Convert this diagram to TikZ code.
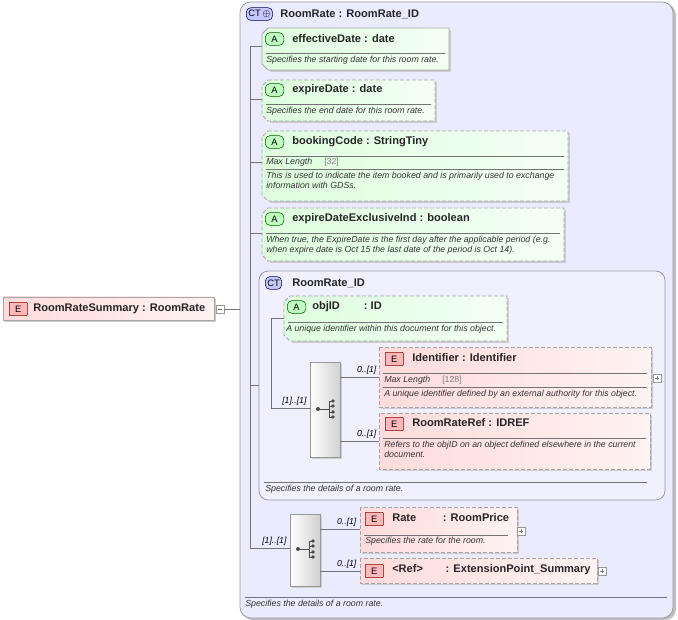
\documentclass[tikz,border=0pt]{standalone}
\usepackage{fontspec}
\setmainfont{Liberation Sans}
\begin{document}
\begin{tikzpicture}[x=0.75pt,y=-0.75pt,
  ttl/.style={anchor=west,inner sep=0pt,font=\fontsize{8.3}{9}\selectfont\bfseries,text=black!85},
  dsc/.style={anchor=north west,inner sep=0pt,font=\fontsize{6.6}{7.6}\selectfont\itshape,text=black!80,align=left},
  mul/.style={anchor=south east,inner sep=1pt,font=\fontsize{6.5}{7}\selectfont\itshape},
  sep/.style={draw=black!55,line width=0.5pt},
  conn/.style={draw=black!55,line width=0.5pt},
  ebox/.style={draw=black!35,line width=0.6pt,left color=red!14,right color=red!5},
  abox/.style={draw=black!35,line width=0.6pt,left color=green!13,right color=green!4},
  dsh/.style={dash pattern=on 3pt off 1.5pt},
  ebadge/.style={draw=red!50!black,fill=red!28,rounded corners=0.5pt,minimum width=13.5pt,minimum height=10pt,inner sep=0pt,font=\fontsize{7}{7}\selectfont,anchor=west},
  abadge/.style={draw=green!35!black,fill=green!25,rounded corners=3.5pt,minimum width=14pt,minimum height=9.5pt,inner sep=0pt,font=\fontsize{7}{7}\selectfont,anchor=west},
  ctbadge/.style={draw=blue!40!black,fill=blue!22,rounded corners=3.5pt,minimum height=9.5pt,inner sep=1.5pt,font=\fontsize{7}{7}\selectfont,anchor=west},
  seqbox/.style={draw=black!40,left color=white,right color=black!18,line width=0.5pt},
  pm/.style={draw=black!40,fill=white,line width=0.4pt},
  shad/.style={fill=black!20}
]
\useasboundingbox (0,0) rectangle (678,620);
% outer CT
\fill[black!25,rounded corners=8pt] (242,4) rectangle (676,620);
\draw[draw=black!40,fill=blue!8,rounded corners=8pt,line width=0.6pt] (240,2) rectangle (673,618);
\node[ctbadge] (ctb) at (246,14) {CT\,$\oplus$};
\node[ttl] (ctt) at (280,14) {RoomRate : RoomRate\_ID};
% outer spine
\draw[conn] (250,46) -- (250,548);
% main element
\fill[shad] (5,299) rectangle (216,322);
\draw[ebox] (3,297) rectangle (214,320);
\node[ebadge] (eb0) at (9,309) {E};
\node[ttl] (rrs) at (33,309) {RoomRateSummary : RoomRate};
\draw[pm] (216,305) rectangle (224,313); \draw[black!60,line width=0.4pt] (218,309)--(222,309);
\coordinate (mainout) at (224,309); \coordinate (ctin) at (240,309);
\draw[conn] (mainout) -- (ctin);
\newcommand{\attrb}[5]{%
 \fill[shad] ({#1+8},{#2+2}) -- ({#3+2},{#2+2}) -- ({#3+2},{#4+2}) -- ({#1+8},{#4+2}) -- cycle;
 \path[abox,#5] ({#1+6},#2) -- (#3,#2) -- (#3,#4) -- ({#1+6},#4) -- (#1,{#4-6}) -- (#1,{#2+6}) -- cycle;}
% effectiveDate
\attrb{262}{28}{449}{70}{}
\node[abadge] (a1) at (265,39) {A};
\node[ttl] (t1) at (292,39) {effectiveDate : date};
\draw[sep] (266,53)--(445,53);
\node[dsc] (d1) at (266,56) {Specifies the starting date for this room rate.};
\draw[conn] (250,46) -- (262,46);
% expireDate
\attrb{262}{80}{435}{121}{dsh}
\node[abadge] (a2) at (265,90) {A};
\node[ttl] (t2) at (292,90) {expireDate : date};
\draw[sep] (266,104)--(431,104);
\node[dsc] (d2) at (266,107) {Specifies the end date for this room rate.};
\draw[conn] (250,99) -- (262,99);
% bookingCode
\attrb{262}{131}{568}{201}{dsh}
\node[abadge] (a3) at (265,142) {A};
\node[ttl] (t3) at (292,142) {bookingCode : StringTiny};
\draw[sep] (266,156)--(564,156);
\node[dsc] (d3a) at (266,158) {Max Length\hspace{9pt}{\upshape\color{black!50}[32]}};
\draw[sep] (266,169)--(564,169);
\node[dsc] (d3) at (266,172) {This is used to indicate the item booked and is primarily used to exchange\\information with GDSs.};
\draw[conn] (250,162) -- (262,162);
% expireDateExclusiveInd
\attrb{262}{208}{564}{261}{dsh}
\node[abadge] (a4) at (265,219) {A};
\node[ttl] (t4) at (292,219) {expireDateExclusiveInd : boolean};
\draw[sep] (266,233)--(560,233);
\node[dsc] (d4) at (266,236) {When true, the ExpireDate is the first day after the applicable period (e.g.\\when expire date is Oct 15  the last date of the period is Oct 14).};
\draw[conn] (250,233) -- (262,233);
% inner CT
\draw[draw=black!40,fill=blue!6,rounded corners=7pt,line width=0.6pt] (259,271) rectangle (665,500);
\node[ctbadge] (ctb2) at (265,283) {CT};
\node[ttl] (ctt2) at (292,283) {RoomRate\_ID};
\draw[conn] (250,385) -- (259,385);
\draw[conn] (271,318) -- (271,408);
% objID
\attrb{284}{296}{507}{341}{dsh}
\node[abadge] (a5) at (287,307) {A};
\node[ttl] (t5) at (312,307) {objID\hspace{18pt}: ID};
\draw[sep] (288,322)--(503,322);
\node[dsc] (d5) at (286,325) {A unique identifier within this document for this object.};
\draw[conn] (271,318) -- (284,318);
% sequence 1
\fill[shad] (312,364) rectangle (342,459);
\draw[seqbox] (310,362) rectangle (340,457);
\draw[black!70,line width=0.7pt] (317,409)--(329,409) (329,401)--(329,417) (329,401)--(333,401) (329,406)--(333,406) (329,412)--(333,412) (329,417)--(333,417);
\fill[black!70] (318,409) circle (2) (333,401) circle (1.8) (333,406) circle (1.8) (333,412) circle (1.8) (333,417) circle (1.8);
\draw[conn] (271,408) -- (310,408); \node[mul] at (308,407) {[1]..[1]};
% Identifier
\fill[shad] (381,349) rectangle (653,409);
\draw[ebox,dsh] (379,347) rectangle (651,407);
\node[ebadge] (e1) at (385,359) {E};
\node[ttl] (t6) at (412,358) {Identifier : Identifier};
\draw[sep] (383,373)--(647,373);
\node[dsc] (d6a) at (384,376) {Max Length\hspace{9pt}{\upshape\color{black!50}[128]}};
\draw[sep] (383,387)--(647,387);
\node[dsc] (d6) at (384,390) {A unique identifier defined by an external authority for this object.};
\draw[pm] (653,374) rectangle (661,382); \draw[black!50,line width=0.4pt] (655,378)--(659,378) (657,376)--(657,380);
\draw[conn] (340,377) -- (379,377); \node[mul] at (378,376) {0..[1]};
% RoomRateRef
\fill[shad] (381,415) rectangle (652,471);
\draw[ebox,dsh] (379,413) rectangle (650,469);
\node[ebadge] (e2) at (385,424) {E};
\node[ttl] (t7) at (412,423) {RoomRateRef : IDREF};
\draw[sep] (383,438)--(646,438);
\node[dsc] (d7) at (384,441) {Refers to the objID on an object defined elsewhere in the current\\document.};
\draw[conn] (340,441) -- (379,441); \node[mul] at (378,440) {0..[1]};
\draw[sep] (264,482)--(647,482);
\node[dsc] (d8) at (265,485) {Specifies the details of a room rate.};
% sequence 2
\fill[shad] (292,516) rectangle (322,588);
\draw[seqbox] (290,514) rectangle (320,586);
\draw[black!70,line width=0.7pt] (297,549)--(309,549) (309,541)--(309,557) (309,541)--(313,541) (309,546)--(313,546) (309,552)--(313,552) (309,557)--(313,557);
\fill[black!70] (298,549) circle (2) (313,541) circle (1.8) (313,546) circle (1.8) (313,552) circle (1.8) (313,557) circle (1.8);
\draw[conn] (250,548) -- (290,548); \node[mul] at (288,547) {[1]..[1]};
% Rate
\fill[shad] (362,509) rectangle (519,554);
\draw[ebox,dsh] (360,507) rectangle (517,552);
\node[ebadge] (e3) at (365,519) {E};
\node[ttl] (t9) at (392,518) {Rate\hspace{20pt}: RoomPrice};
\draw[sep] (364,535)--(508,535);
\node[dsc] (d9) at (365,537) {Specifies the rate for the room.};
\draw[pm] (517,527) rectangle (525,535); \draw[black!50,line width=0.4pt] (519,531)--(523,531) (521,529)--(521,533);
\draw[conn] (320,529) -- (360,529); \node[mul] at (358,528) {0..[1]};
% Ref
\fill[shad] (362,560) rectangle (599,585);
\draw[ebox,dsh] (360,558) rectangle (597,583);
\node[ebadge] (e4) at (365,571) {E};
\node[ttl] (t10) at (392,570) {<Ref>\hspace{17pt}: ExtensionPoint\_Summary};
\draw[pm] (598,567) rectangle (606,575); \draw[black!50,line width=0.4pt] (600,571)--(604,571) (602,569)--(602,573);
\draw[conn] (320,571) -- (360,571); \node[mul] at (358,570) {0..[1]};
\draw[sep] (245,597)--(667,597);
\node[dsc] (d10) at (245,600) {Specifies the details of a room rate.};
\end{tikzpicture}
\end{document}
